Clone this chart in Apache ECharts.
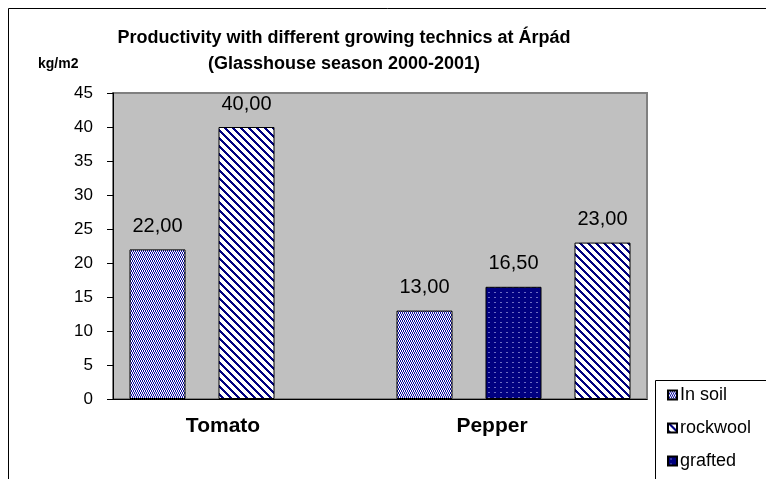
<!DOCTYPE html>
<html>
<head>
<meta charset="utf-8">
<script src="https://cdn.jsdelivr.net/npm/echarts@6/dist/echarts.min.js"></script>
<style>
html,body{margin:0;padding:0;background:#fff;}
#chart{width:766px;height:479px;}
</style>
</head>
<body>
<div id="chart"></div>
<script>
// ---- data ----
const categories = ['Tomato', 'Pepper'];
const seriesNames = ['In soil', 'rockwool', 'grafted'];
const inSoil   = [22, 13];
const rockwool = [40, 23];
const grafted  = [null, 16.5];
const yTicks = [0, 5, 10, 15, 20, 25, 30, 35, 40, 45];

// order of the bars inside each category group (as in the original)
const groupOrder = [
  ['In soil', 'rockwool', 'grafted'],
  ['In soil', 'grafted', 'rockwool']
];
const valuesByName = { 'In soil': inSoil, 'rockwool': rockwool, 'grafted': grafted };

// slots: 3 per category
const slots = [];
groupOrder.forEach((ord, ci) => ord.forEach(n => slots.push(categories[ci] + ' ' + n)));
function slotData(name) {
  const arr = [];
  groupOrder.forEach((ord, ci) => ord.forEach(n => arr.push(n === name ? valuesByName[name][ci] : null)));
  return arr;
}

// ---- patterns ----
function makePattern(w, h, fn) {
  const c = document.createElement('canvas');
  c.width = w; c.height = h;
  const ctx = c.getContext('2d');
  for (let y = 0; y < h; y++) for (let x = 0; x < w; x++) {
    ctx.fillStyle = fn(x, y);
    ctx.fillRect(x, y, 1, 1);
  }
  return { image: c, repeat: 'repeat' };
}
const NAVY = '#000080', WHITE = '#ffffff';
const patSoil = makePattern(4, 4, (x, y) => (((x + (y >> 1)) % 2) === 0 ? '#1010a0' : WHITE));
const patRock = makePattern(8, 8, (x, y) => ((((x - y) % 8) + 8) % 8 < 3 ? NAVY : WHITE));
const patGraft = makePattern(6, 5, (x, y) => ((y === 2 && (x === 2 || x === 3)) ? '#6a6ac0' : NAVY));
const patterns = { 'In soil': patSoil, 'rockwool': patRock, 'grafted': patGraft };

const fmt = v => v.value == null ? '' : v.value.toFixed(2).replace('.', ',');

const chart = echarts.init(document.getElementById('chart'), null, { renderer: 'canvas' });
const FONT = 'Liberation Sans, Arial, sans-serif';

chart.setOption({
  animation: false,
  backgroundColor: '#fff',
  textStyle: { fontFamily: FONT },
  title: [{
    text: 'Productivity with different growing technics at Árpád\n(Glasshouse season 2000-2001)',
    left: 339, top: 20, textAlign: 'center',
    textStyle: { fontSize: 18, fontWeight: 'bold', color: '#000', lineHeight: 26, fontFamily: FONT }
  }, {
    text: 'kg/m2', left: 33, top: 52,
    textStyle: { fontSize: 14, fontWeight: 'bold', color: '#000', fontFamily: FONT }
  }],
  graphic: [
    { type: 'rect', shape: { x: 8.5, y: 8.5, width: 800, height: 500 }, style: { fill: 'none', stroke: '#000', lineWidth: 1 }, z: 0 },
    { type: 'rect', shape: { x: 655.5, y: 380.5, width: 200, height: 200 }, style: { fill: '#fff', stroke: '#000', lineWidth: 1 }, z: 0 }
  ],
  legend: {
    orient: 'vertical', left: 662, top: 381,
    itemWidth: 9, itemHeight: 9, itemGap: 15, icon: 'rect',
    data: seriesNames,
    textStyle: { fontSize: 18, color: '#000', fontFamily: FONT, padding: [0, 0, 0, -2] },
    z: 10
  },
  grid: [
    { left: 113, top: 93, width: 534, height: 306, show: true, backgroundColor: '#c0c0c0', borderColor: '#808080', borderWidth: 2 },
    { left: 88.5, top: 93, width: 538, height: 306, show: false }
  ],
  xAxis: [
    { type: 'category', gridIndex: 0, data: slots, axisLabel: { show: false }, axisTick: { show: false },
      axisLine: { lineStyle: { color: '#000', width: 1 } } },
    { type: 'category', gridIndex: 1, data: categories, axisTick: { show: false }, axisLine: { show: false },
      axisLabel: { fontSize: 21, fontWeight: 'bold', color: '#000', margin: 17, fontFamily: FONT } }
  ],
  yAxis: [
    { type: 'value', gridIndex: 0, min: 0, max: 45, interval: 5,
      axisLine: { show: true, lineStyle: { color: '#000' } },
      axisTick: { show: true, length: 6, lineStyle: { color: '#000' } },
      splitLine: { show: false },
      axisLabel: { fontSize: 17, color: '#000', margin: 20, fontFamily: FONT,
        formatter: v => yTicks.includes(v) ? String(v) : '' } },
    { type: 'value', gridIndex: 1, show: false, min: 0, max: 45 }
  ],
  series: seriesNames.map(name => ({
    name, type: 'bar', xAxisIndex: 0, yAxisIndex: 0,
    data: slotData(name),
    barWidth: 56, barGap: '-100%',
    itemStyle: { color: patterns[name], borderColor: '#000', borderWidth: 1 },
    label: { show: true, position: 'top', distance: 13, fontSize: 20, color: '#000', fontFamily: FONT, formatter: fmt }
  }))
});
</script>
</body>
</html>
